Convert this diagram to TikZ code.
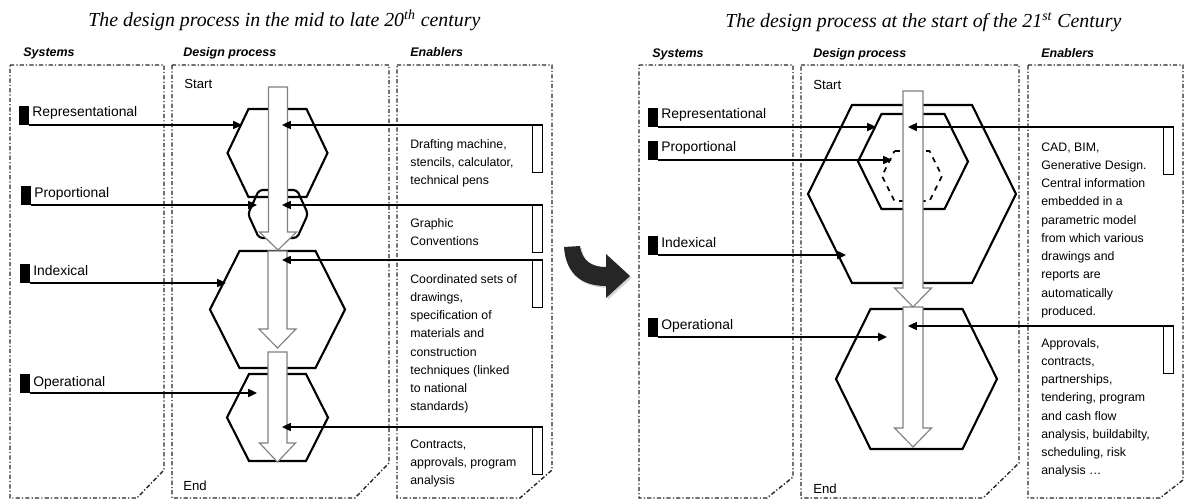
\documentclass[tikz,border=0pt]{standalone}
\usepackage{fontspec}
\setmainfont{Liberation Sans}
\newfontfamily\titlefont{Liberation Serif}
\usetikzlibrary{arrows.meta,shadows}

% flat-topped hexagon: centre x, centre y, half width, half top edge, half height
\newcommand\hexshape[6][]{%
  \draw[hexline,#1] ({#2-#5},{#3-#6}) -- ({#2+#5},{#3-#6}) -- ({#2+#4},#3)
    -- ({#2+#5},{#3+#6}) -- ({#2-#5},{#3+#6}) -- ({#2-#4},#3) -- cycle;}

% hollow process arrow pointing down: centre x, top, head base, tip, half shaft, half head
\newcommand\procshape[6]{%
  \draw[procarrow] ({#1-#5},#2) -- ({#1+#5},#2) -- ({#1+#5},#3) -- ({#1+#6},#3)
    -- (#1,#4) -- ({#1-#6},#3) -- ({#1-#5},#3) -- cycle;}

% enabler text block, baseline of first line at the node anchor
\newcommand\entxt[1]{\parbox[t]{2.6cm}{\fontsize{7}{10.4}\selectfont\raggedright #1}}

\tikzset{
  panelbox/.style={draw=black!85, line width=0.8pt,
    dash pattern=on 2.4pt off 1.2pt on 0.7pt off 1.2pt},
  hexline/.style={draw=black, line width=1.2pt, line join=miter},
  procarrow/.style={draw=black!50, line width=0.65pt, fill=white},
  sysmark/.style={fill=black, draw=none, minimum width=0.19cm,
    minimum height=0.38cm, inner sep=0, anchor=south east},
  syslabel/.style={font=\fontsize{7.9}{9}\selectfont, anchor=base west, inner sep=0},
  link/.style={draw=black, line width=0.8pt, -{Triangle[length=5pt,width=4.6pt]}},
  enrect/.style={draw=black, line width=0.7pt, fill=white, minimum width=0.2cm,
    minimum height=0.94cm, inner sep=0, anchor=north east},
  heading/.style={font=\bfseries\itshape\fontsize{7.1}{8}\selectfont,
    anchor=base west, inner sep=0},
  titletext/.style={font=\titlefont\itshape\fontsize{11.3}{13}\selectfont,
    anchor=base west, inner sep=0},
  entext/.style={anchor=base west, inner sep=0},
  endlabel/.style={font=\fontsize{7.5}{9}\selectfont, anchor=base west, inner sep=0},
}

\begin{document}
\begin{tikzpicture}[x=0.02cm, y=-0.02cm]
\useasboundingbox (0,0) rectangle (1188,501);

% ---------- titles and column headings ----------
\node[titletext] (titleL) at (88,26) {The design process in the mid to late 20\textsuperscript{th} century};
\node[titletext] (titleR) at (725,27) {The design process at the start of the 21\textsuperscript{st} Century};

\node[heading] (hSysL) at (23,56) {Systems};
\node[heading] (hDesL) at (183,56) {Design process};
\node[heading] (hEnaL) at (410,56) {Enablers};
\node[heading] (hSysR) at (652,57) {Systems};
\node[heading] (hDesR) at (813,57) {Design process};
\node[heading] (hEnaR) at (1041,57) {Enablers};

% ---------- column frames ----------
\draw[panelbox] (10,65) -- (164,65) -- (164,470) -- (137,498) -- (10,498) -- cycle;
\draw[panelbox] (172,65) -- (389,65) -- (389,463) -- (355,498) -- (172,498) -- cycle;
\draw[panelbox] (397,65) -- (552,65) -- (552,470) -- (520,498) -- (397,498) -- cycle;
\draw[panelbox] (639,65) -- (793,65) -- (793,477) -- (767,498) -- (639,498) -- cycle;
\draw[panelbox] (801,65) -- (1019,65) -- (1019,463) -- (983,498) -- (801,498) -- cycle;
\draw[panelbox] (1028,65) -- (1183,65) -- (1183,480) -- (1160,498) -- (1028,498) -- cycle;

\node[endlabel] (startL) at (184,88) {Start};
\node[endlabel] (endL) at (183,490) {End};
\node[endlabel] (startR) at (813,89) {Start};
\node[endlabel] (endR) at (813,493) {End};

% ---------- left panel: hexagons ----------
\hexshape{277.5}{153}{50}{29}{44}
\hexshape[rounded corners=2pt]{278}{214}{30}{19}{24}
\hexshape{277.5}{309.5}{67.5}{38}{58.5}
\hexshape{277.5}{417.5}{50.5}{28.5}{43.5}

% ---------- right panel: hexagons ----------
\hexshape{912}{194}{104}{60}{89}
\hexshape{913}{161.5}{55}{31.5}{47.5}
\hexshape[dashed, line width=1pt]{912}{176}{30}{17.5}{25}
\hexshape{916.5}{379}{80.5}{46}{70}

% ---------- left panel: systems ----------
\node[sysmark] (mRepL) at (29,125) {};
\node[sysmark] (mProL) at (31,205) {};
\node[sysmark] (mIndL) at (30,283) {};
\node[sysmark] (mOpeL) at (30,393) {};
\node[syslabel] (lRepL) at (32,116.5) {Representational};
\node[syslabel] (lProL) at (34,197) {Proportional};
\node[syslabel] (lIndL) at (33,275) {Indexical};
\node[syslabel] (lOpeL) at (33,386) {Operational};
\coordinate (tRepL) at (242,125);
\coordinate (tProL) at (257,205);
\coordinate (tIndL) at (226,283);
\coordinate (tOpeL) at (257,393);
\draw[link] (mRepL.south east) -- (tRepL);
\draw[link] (mProL.south east) -- (tProL);
\draw[link] (mIndL.south east) -- (tIndL);
\draw[link] (mOpeL.south east) -- (tOpeL);

% ---------- right panel: systems ----------
\node[sysmark] (mRepR) at (658,127) {};
\node[sysmark] (mProR) at (658,160) {};
\node[sysmark] (mIndR) at (658,255) {};
\node[sysmark] (mOpeR) at (658,337) {};
\node[syslabel] (lRepR) at (661,118) {Representational};
\node[syslabel] (lProR) at (661,151) {Proportional};
\node[syslabel] (lIndR) at (661,247) {Indexical};
\node[syslabel] (lOpeR) at (661,329) {Operational};
\coordinate (tRepR) at (876,127);
\coordinate (tProR) at (892,160);
\coordinate (tIndR) at (846,255);
\coordinate (tOpeR) at (887,337);
\draw[link] (mRepR.south east) -- (tRepR);
\draw[link] (mProR.south east) -- (tProR);
\draw[link] (mIndR.south east) -- (tIndR);
\draw[link] (mOpeR.south east) -- (tOpeR);

% ---------- process arrows ----------
\procshape{278}{87}{232}{250}{9.5}{18.5}
\procshape{277.5}{251}{329}{348}{9.5}{18.5}
\procshape{277.5}{352}{443}{462}{9.5}{18}
\procshape{913}{91}{288}{307}{10}{18.5}
\procshape{913}{307}{428}{447}{10}{18.5}

% ---------- left panel: enablers ----------
\node[enrect] (eRepL) at (543,125) {};
\node[enrect] (eProL) at (543,205) {};
\node[enrect] (eIndL) at (543,260) {};
\node[enrect] (eOpeL) at (543,427) {};
\coordinate (uRepL) at (282,125);
\coordinate (uProL) at (282,205);
\coordinate (uIndL) at (282,260);
\coordinate (uOpeL) at (282,427);
\draw[link] (eRepL.north east) -- (uRepL);
\draw[link] (eProL.north east) -- (uProL);
\draw[link] (eIndL.north east) -- (uIndL);
\draw[link] (eOpeL.north east) -- (uOpeL);

\node[entext] (xRepL) at (410,148) {\entxt{Drafting machine,\\ stencils, calculator,\\ technical pens}};
\node[entext] (xProL) at (410,227) {\entxt{Graphic\\ Conventions}};
\node[entext] (xIndL) at (410,283) {\entxt{Coordinated sets of\\ drawings,\\ specification of\\ materials and\\ construction\\ techniques (linked\\ to national\\ standards)}};
\node[entext] (xOpeL) at (410,448) {\entxt{Contracts,\\ approvals, program\\ analysis}};

% ---------- right panel: enablers ----------
\node[enrect] (eRepR) at (1174,127) {};
\node[enrect] (eOpeR) at (1174,326) {};
\coordinate (uRepR) at (908,127);
\coordinate (uOpeR) at (908,326);
\draw[link] (eRepR.north east) -- (uRepR);
\draw[link] (eOpeR.north east) -- (uOpeR);

\node[entext] (xRepR) at (1041,151) {\entxt{CAD, BIM,\\ Generative Design.\\ Central information\\ embedded in a\\ parametric model\\ from which various\\ drawings and\\ reports are\\ automatically\\ produced.}};
\node[entext] (xOpeR) at (1041,347) {\entxt{Approvals,\\ contracts,\\ partnerships,\\ tendering, program\\ and cash flow\\ analysis, buildabilty,\\ scheduling, risk\\ analysis \dots}};

% ---------- transition arrow between the two panels ----------
\fill[black!85, drop shadow={opacity=0.35, shadow xshift=1pt, shadow yshift=-1pt}]
  (564,247) .. controls (566,276) and (584,286) .. (606,286)
  -- (606,298) -- (630,276) -- (606,254) -- (606,267)
  .. controls (592,267) and (582,261) .. (580,246) -- cycle;

\end{tikzpicture}
\end{document}
